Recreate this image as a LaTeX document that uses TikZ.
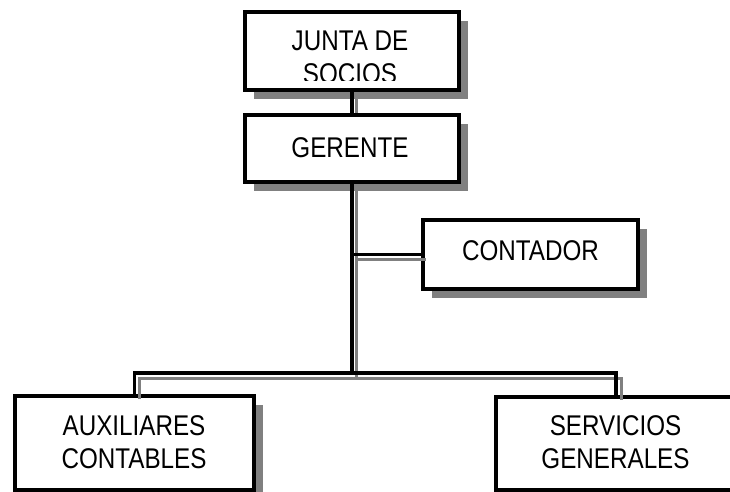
\documentclass[tikz,border=0pt]{standalone}
\usepackage{fontspec}
\setmainfont[FakeStretch=0.85]{Liberation Sans}
\usetikzlibrary{shadows,calc}
\definecolor{shgray}{RGB}{128,128,128}
\tikzset{
  box/.style={draw=black, line width=4pt, fill=white, inner sep=0pt,
    drop shadow={shadow xshift=9pt, shadow yshift=-9pt, fill=shgray, opacity=1}},
  lbl/.style={inner sep=0pt, anchor=base, font=\fontsize{28.5}{33}\selectfont},
  blk/.style={draw=black, line width=3.6pt},
  gry/.style={draw=shgray, line width=3pt, transform canvas={xshift=5pt, yshift=-5pt}}
}
\begin{document}
\begin{tikzpicture}[x=1pt,y=-1pt]
\clip (0,0) rectangle (730,491);
\fill[white] (0,0) rectangle (730,491);
% boxes
\node[box, minimum width=213.7pt, minimum height=77.5pt] (junta) at (351.85,50.75) {};
\node[box, minimum width=213.7pt, minimum height=67pt] (gerente) at (351.85,148.5) {};
\node[box, minimum width=214.8pt, minimum height=69pt] (contador) at (530.1,254.5) {};
\node[box, minimum width=239.3pt, minimum height=94pt] (aux) at (134.35,443) {};
\node[box, minimum width=241pt, minimum height=93pt] (serv) at (616,443.5) {};
% labels
\node[lbl] (junta1) at (350,50) {JUNTA DE};
\begin{scope}
\clip (240,60) rectangle (470,80);
\node[lbl] (junta2) at (350,83) {SOCIOS};
\end{scope}
\node[lbl] (gerentet) at (350,157) {GERENTE};
\node[lbl] (contadort) at (530.5,260) {CONTADOR};
\node[lbl] (aux1) at (134,435) {AUXILIARES};
\node[lbl] (aux2) at (134,468) {CONTABLES};
\node[lbl] (serv1) at (615.5,435) {SERVICIOS};
\node[lbl] (serv2) at (615.5,468) {GENERALES};
% connectors
\coordinate (bus) at (351.85,373);
\coordinate (branch) at (351.85,254.5);
\draw[gry, shorten >=5pt] (junta.south) -- (gerente.north);
\draw[gry] (gerente.south) -- (bus);
\draw[gry] (branch) -- (contador.west);
\draw[gry] (aux.north) |- (bus) -| (serv.north);
\draw[blk] (junta.south) -- (gerente.north);
\draw[blk] (gerente.south) -- (bus);
\draw[blk] (branch) -- (contador.west);
\draw[blk] (aux.north) |- (bus) -| (serv.north);
\end{tikzpicture}
\end{document}
